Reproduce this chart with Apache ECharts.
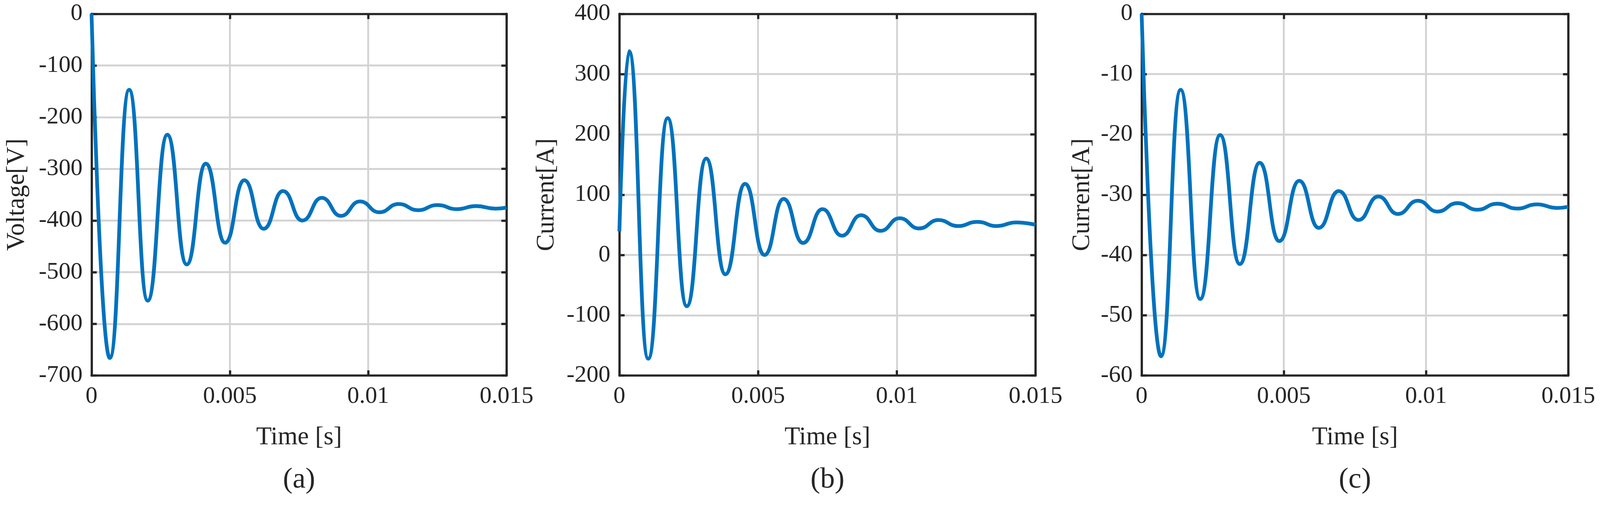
<!DOCTYPE html>
<html><head><meta charset="utf-8">
<script src="https://cdn.jsdelivr.net/npm/echarts@6/dist/echarts.min.js"></script>
<style>html,body{margin:0;padding:0;background:#fff;overflow:hidden}#c{width:100vw;height:100vh}</style>
</head><body><div id="c"></div>
<script>
// Panel (a) voltage: [time s, V]
const voltageA = [[0,0],[0.00066,-666],[0.00136,-147],[0.00203,-555],[0.00274,-234],[0.00344,-485],[0.00413,-290],[0.00483,-443],[0.00552,-322],[0.00622,-416],[0.00692,-343],[0.00762,-400],[0.00832,-356],[0.00901,-391],[0.0097,-363],[0.0104,-384],[0.0111,-368],[0.0118,-380],[0.0125,-370],[0.0132,-378],[0.0139,-372],[0.0146,-377],[0.015,-375]];
// Panel (b) current: [time s, A]
const currentB = [[0,39],[0.00035,338],[0.00104,-172],[0.00174,227],[0.00243,-85],[0.00313,160],[0.00382,-32],[0.00453,118],[0.00523,0],[0.00592,93],[0.00662,20],[0.00732,76],[0.00802,32],[0.00871,66],[0.00941,40],[0.0101,61],[0.0108,44],[0.0115,58],[0.0122,48],[0.0129,55],[0.0136,48],[0.0143,54],[0.015,50]];
// Panel (c) current: [time s, A]
const currentC = [[0,0],[0.00068,-56.8],[0.00137,-12.6],[0.00206,-47.3],[0.00276,-20.1],[0.00345,-41.5],[0.00415,-24.7],[0.00484,-37.7],[0.00554,-27.7],[0.00623,-35.5],[0.00693,-29.4],[0.00762,-34.2],[0.00832,-30.3],[0.00901,-33.2],[0.00971,-31],[0.0104,-32.8],[0.0111,-31.4],[0.0118,-32.5],[0.0125,-31.5],[0.0132,-32.3],[0.0139,-31.6],[0.0146,-32.2],[0.015,-32]];
const xTicks = [0, 0.005, 0.01, 0.015];
const yRanges = [[-700,0,100],[-200,400,100],[-60,0,10]];
const yNames = ['Voltage[V]','Current[A]','Current[A]'];
const panelLabels = ['(a)','(b)','(c)'];
const seriesData = [voltageA, currentB, currentC];

const W = window.innerWidth, H = window.innerHeight;
const s = W/4283;
const FONT = 'Liberation Serif';
const boxes = [[245,1356],[1658,2772],[3056,4198]];
const yNameGaps = [165, 160, 125];
const frame = {show:true, onZero:false, lineStyle:{color:'#262626', width:6*s}};
const tick = {show:true, inside:true, length:14*s, lineStyle:{color:'#262626', width:6*s}};
const split = {show:true, lineStyle:{color:'#d4d4d4', width:5*s}};
const grids = [], xAxis = [], yAxis = [], series = [], graphic = [];
boxes.forEach(([l,r],i)=>{
  grids.push({left:l*s, width:(r-l)*s, top:37*s, height:(1005-37)*s});
  xAxis.push({type:'value', gridIndex:i, min:0, max:0.015, interval:0.005, position:'bottom',
    axisLine:frame, axisTick:tick, splitLine:split,
    axisLabel:{fontFamily:FONT, fontSize:64*s, color:'#262626', margin:24*s, formatter:v=>String(+v.toFixed(3))},
    name:'Time [s]', nameLocation:'middle', nameGap:132*s, nameTextStyle:{fontFamily:FONT, fontSize:68*s, color:'#262626'}});
  xAxis.push({type:'value', gridIndex:i, min:0, max:0.015, interval:0.005, position:'top',
    axisLine:frame, axisTick:tick, splitLine:{show:false}, axisLabel:{show:false}});
  const [mn,mx,iv] = yRanges[i];
  yAxis.push({type:'value', gridIndex:i, min:mn, max:mx, interval:iv, position:'left',
    axisLine:frame, axisTick:tick, splitLine:split,
    axisLabel:{fontFamily:FONT, fontSize:64*s, color:'#262626', margin:24*s},
    name:yNames[i], nameLocation:'middle', nameGap:yNameGaps[i]*s, nameTextStyle:{fontFamily:FONT, fontSize:68*s, color:'#262626'}});
  yAxis.push({type:'value', gridIndex:i, min:mn, max:mx, interval:iv, position:'right',
    axisLine:frame, axisTick:tick, splitLine:{show:false}, axisLabel:{show:false}});
  series.push({type:'line', xAxisIndex:2*i, yAxisIndex:2*i, data:seriesData[i], smooth:0.5, smoothMonotone:'x',
    showSymbol:false, lineStyle:{color:'#0072BD', width:10*s}, z:3});
  graphic.push({type:'text', x:(l+r)/2*s, y:1285*s, style:{text:panelLabels[i], fontFamily:FONT, fontSize:78*s, fill:'#262626', align:'center', verticalAlign:'middle'}});
});
const chart = echarts.init(document.getElementById('c'), null, {renderer:'canvas', width:W, height:H});
chart.setOption({animation:false, backgroundColor:'#fff', grid:grids, xAxis, yAxis, series, graphic});
</script></body></html>
